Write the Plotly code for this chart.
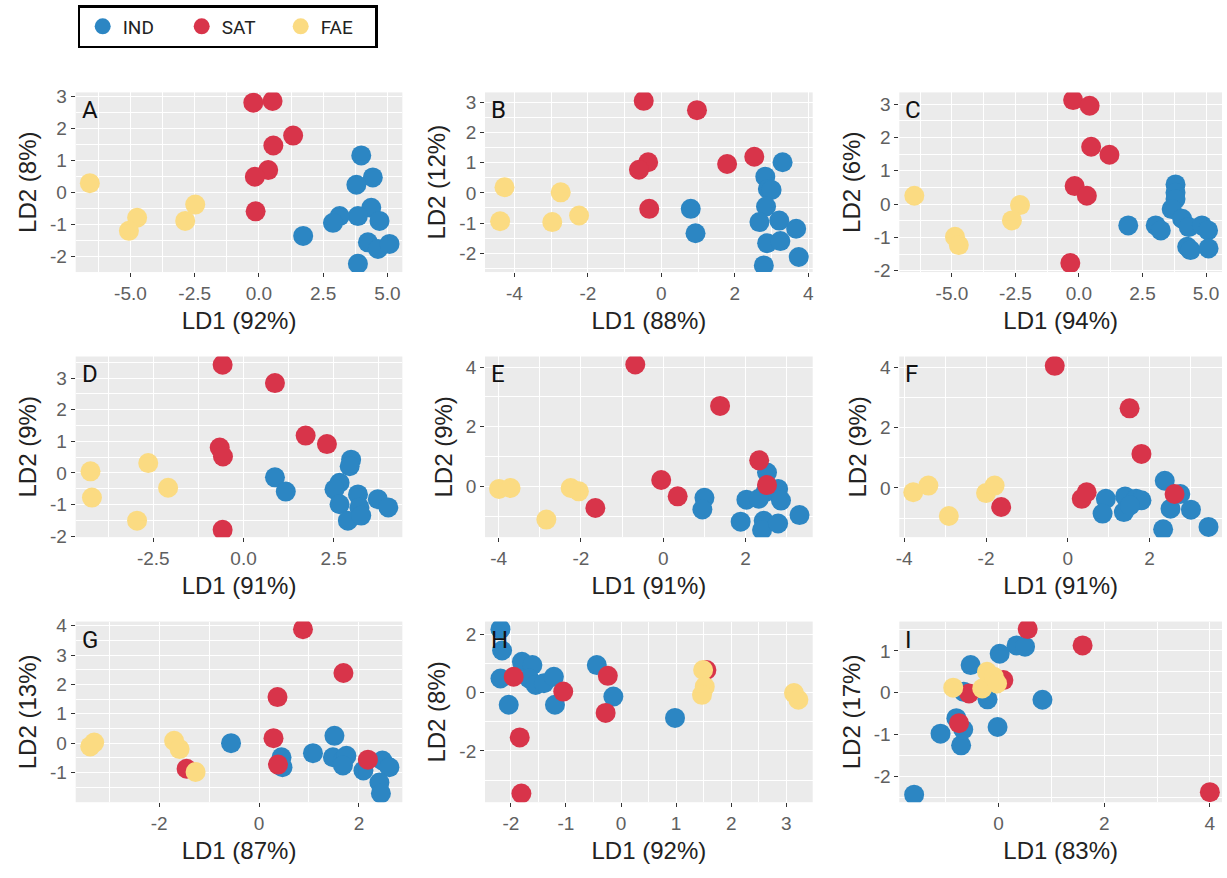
import plotly.graph_objects as go

W, H = 1227, 878

groups = ["IND", "SAT", "FAE"]
colors = {"IND": "#2C86C3", "SAT": "#D8344A", "FAE": "#FBDB82"}

# ---- data per panel (LD1, LD2) ----
A_IND_x = [3.98, 4.43, 3.79, 4.37, 3.85, 3.14, 2.88, 4.69, 4.24, 4.63, 5.08, 3.85, 1.72]
A_IND_y = [1.15, 0.46, 0.23, -0.49, -0.75, -0.75, -0.96, -0.90, -1.57, -1.78, -1.62, -2.24, -1.37]
A_SAT_x = [-0.22, 0.53, 1.33, 0.56, 0.36, -0.16, -0.13]
A_SAT_y = [2.80, 2.85, 1.77, 1.46, 0.69, 0.48, -0.60]
A_FAE_x = [-6.58, -4.74, -5.06, -2.48, -2.87]
A_FAE_y = [0.28, -0.80, -1.21, -0.39, -0.90]

B_IND_x = [3.30, 2.83, 2.90, 3.00, 2.85, 2.67, 3.21, 3.67, 2.88, 3.24, 3.74, 2.79, 0.80, 0.93]
B_IND_y = [1.02, 0.54, 0.13, 0.10, -0.45, -0.97, -0.92, -1.19, -1.67, -1.60, -2.13, -2.41, -0.53, -1.34]
B_SAT_x = [-0.48, 0.97, -0.36, -0.61, -0.33, 1.79, 2.53]
B_SAT_y = [3.06, 2.75, 1.02, 0.77, -0.53, 0.96, 1.20]
B_FAE_x = [-4.27, -4.39, -2.74, -2.97, -2.24]
B_FAE_y = [0.19, -0.94, 0.02, -0.97, -0.75]

C_IND_x = [3.80, 3.80, 3.80, 3.65, 4.06, 4.32, 4.84, 5.08, 4.26, 4.39, 5.10, 1.94, 3.02, 3.22]
C_IND_y = [0.59, 0.34, 0.15, -0.15, -0.44, -0.69, -0.64, -0.79, -1.28, -1.38, -1.33, -0.64, -0.64, -0.79]
C_SAT_x = [-0.23, 0.42, 0.48, 1.20, -0.17, 0.31, -0.34]
C_SAT_y = [3.12, 2.95, 1.72, 1.48, 0.54, 0.25, -1.77]
C_FAE_x = [-6.48, -4.88, -4.73, -2.32, -2.64]
C_FAE_y = [0.25, -0.98, -1.23, -0.03, -0.49]

D_IND_x = [0.87, 1.17, 2.98, 2.94, 2.66, 2.52, 2.66, 3.17, 3.21, 2.89, 3.26, 3.72, 4.01]
D_IND_y = [-0.14, -0.59, 0.42, 0.21, -0.31, -0.52, -0.99, -0.68, -1.09, -1.51, -1.35, -0.83, -1.09]
D_SAT_x = [-0.58, 0.87, -0.66, -0.57, -0.58, 1.72, 2.31]
D_SAT_y = [3.42, 2.84, 0.80, 0.52, -1.80, 1.18, 0.91]
D_FAE_x = [-4.24, -4.20, -2.64, -2.09, -2.95]
D_FAE_y = [0.05, -0.78, 0.31, -0.47, -1.51]

E_IND_x = [2.52, 2.48, 1.00, 0.95, 2.02, 2.32, 2.79, 2.86, 1.88, 2.44, 2.40, 2.79, 3.31]
E_IND_y = [0.46, -0.20, -0.39, -0.78, -0.45, -0.42, -0.09, -0.48, -1.19, -1.16, -1.47, -1.25, -0.97]
E_SAT_x = [-0.68, 1.38, -1.65, -0.05, 0.35, 2.33, 2.52]
E_SAT_y = [4.09, 2.70, -0.73, 0.21, -0.34, 0.87, 0.04]
E_FAE_x = [-3.99, -3.71, -2.25, -2.05, -2.84]
E_FAE_y = [-0.09, -0.06, -0.06, -0.17, -1.12]

F_IND_x = [0.93, 0.85, 1.40, 1.37, 1.67, 1.80, 1.52, 2.37, 2.75, 2.51, 3.01, 2.33, 3.44]
F_IND_y = [-0.36, -0.85, -0.28, -0.80, -0.36, -0.41, -0.58, 0.24, -0.20, -0.69, -0.72, -1.37, -1.29]
F_SAT_x = [-0.32, 1.51, 1.80, -1.63, 0.34, 0.46, 2.61]
F_SAT_y = [4.05, 2.64, 1.13, -0.63, -0.36, -0.14, -0.20]
F_FAE_x = [-3.78, -3.41, -2.91, -2.00, -1.79]
F_FAE_y = [-0.14, 0.08, -0.93, -0.17, 0.08]

G_IND_x = [-0.56, 0.45, 0.47, 1.08, 1.51, 1.48, 1.68, 1.75, 1.68, 2.09, 2.47, 2.61, 2.41, 2.44]
G_IND_y = [0.00, -0.48, -0.82, -0.34, 0.25, -0.48, -0.59, -0.43, -0.76, -0.93, -0.59, -0.82, -1.34, -1.71]
G_SAT_x = [0.88, 1.69, 0.37, 0.29, 0.38, -1.45, 2.18]
G_SAT_y = [3.88, 2.39, 1.57, 0.17, -0.73, -0.87, -0.56]
G_FAE_x = [-3.38, -3.30, -1.70, -1.59, -1.27]
G_FAE_y = [-0.11, 0.02, 0.08, -0.20, -0.98]

H_IND_x = [-2.19, -2.16, -2.19, -2.04, -1.80, -1.61, -1.67, -1.55, -1.40, -1.22, -1.20, -0.44, -0.14, 0.98]
H_IND_y = [2.17, 1.44, 0.48, -0.42, 1.05, 0.94, 0.48, 0.26, 0.32, 0.54, -0.42, 0.94, -0.14, -0.87]
H_SAT_x = [-1.95, -1.05, -0.24, -0.28, -1.84, -1.81, 1.55]
H_SAT_y = [0.54, 0.03, 0.57, -0.70, -1.54, -3.46, 0.77]
H_FAE_x = [1.49, 1.52, 1.47, 3.14, 3.22]
H_FAE_y = [0.77, 0.20, -0.08, -0.02, -0.25]

I_IND_x = [-1.60, -1.10, -0.71, -0.80, -0.67, -0.53, 0.02, 0.34, 0.50, -0.21, -0.02, 0.83, -0.66]
I_IND_y = [-2.44, -0.98, -1.26, -0.61, -0.88, 0.66, 0.93, 1.13, 1.10, -0.16, -0.82, -0.17, 0.02]
I_SAT_x = [0.55, 1.59, 4.00, -0.75, -0.56, 0.09]
I_SAT_y = [1.52, 1.13, -2.38, -0.73, -0.02, 0.30]
I_FAE_x = [-0.86, -0.31, -0.22, -0.09, -0.03]
I_FAE_y = [0.12, 0.10, 0.50, 0.38, 0.22]

panel_labels = ["A", "B", "C", "D", "E", "F", "G", "H", "I"]
ld1_titles = ["LD1 (92%)", "LD1 (88%)", "LD1 (94%)", "LD1 (91%)", "LD1 (91%)", "LD1 (91%)",
              "LD1 (87%)", "LD1 (92%)", "LD1 (83%)"]
ld2_titles = ["LD2 (8%)", "LD2 (12%)", "LD2 (6%)", "LD2 (9%)", "LD2 (9%)", "LD2 (9%)",
              "LD2 (13%)", "LD2 (8%)", "LD2 (17%)"]

data = {
    "A": {"IND": (A_IND_x, A_IND_y), "SAT": (A_SAT_x, A_SAT_y), "FAE": (A_FAE_x, A_FAE_y)},
    "B": {"IND": (B_IND_x, B_IND_y), "SAT": (B_SAT_x, B_SAT_y), "FAE": (B_FAE_x, B_FAE_y)},
    "C": {"IND": (C_IND_x, C_IND_y), "SAT": (C_SAT_x, C_SAT_y), "FAE": (C_FAE_x, C_FAE_y)},
    "D": {"IND": (D_IND_x, D_IND_y), "SAT": (D_SAT_x, D_SAT_y), "FAE": (D_FAE_x, D_FAE_y)},
    "E": {"IND": (E_IND_x, E_IND_y), "SAT": (E_SAT_x, E_SAT_y), "FAE": (E_FAE_x, E_FAE_y)},
    "F": {"IND": (F_IND_x, F_IND_y), "SAT": (F_SAT_x, F_SAT_y), "FAE": (F_FAE_x, F_FAE_y)},
    "G": {"IND": (G_IND_x, G_IND_y), "SAT": (G_SAT_x, G_SAT_y), "FAE": (G_FAE_x, G_FAE_y)},
    "H": {"IND": (H_IND_x, H_IND_y), "SAT": (H_SAT_x, H_SAT_y), "FAE": (H_FAE_x, H_FAE_y)},
    "I": {"IND": (I_IND_x, I_IND_y), "SAT": (I_SAT_x, I_SAT_y), "FAE": (I_FAE_x, I_FAE_y)},
}

# axis settings: (xrange, xticks, xfmt, yrange, yticks)
axes_cfg = {
    "A": ([-7.13, 5.58], [-5, -2.5, 0, 2.5, 5], ".1f", [-2.5, 3.12], [-2, -1, 0, 1, 2, 3]),
    "B": ([-4.8, 4.12], [-4, -2, 0, 2, 4], "", [-2.63, 3.34], [-2, -1, 0, 1, 2, 3]),
    "C": ([-7.07, 5.63], [-5, -2.5, 0, 2.5, 5], ".1f", [-2.04, 3.35], [-2, -1, 0, 1, 2, 3]),
    "D": ([-4.65, 4.4], [-2.5, 0, 2.5], ".1f", [-2.03, 3.68], [-2, -1, 0, 1, 2, 3]),
    "E": ([-4.33, 3.63], [-4, -2, 0, 2], "", [-1.71, 4.36], [0, 2, 4]),
    "F": ([-4.12, 3.77], [-4, -2, 0, 2], "", [-1.63, 4.36], [0, 2, 4]),
    "G": ([-3.67, 2.87], [-2, 0, 2], "", [-2.01, 4.14], [-1, 0, 1, 2, 3, 4]),
    "H": ([-2.47, 3.48], [-2, -1, 0, 1, 2, 3], "", [-3.76, 2.43], [-2, 0, 2]),
    "I": ([-1.88, 4.23], [0, 2, 4], "", [-2.62, 1.7], [-2, -1, 0, 1]),
}

# plot-area pixel boxes (x0, x1) per column and (y0, y1) per row
cols_px = [(72, 400), (483, 812), (899, 1223)]
rows_px = [(88, 271), (357, 541), (627, 811)]

fig = go.Figure()
layout = {}
annotations = []

for i, p in enumerate(panel_labels):
    r, c = divmod(i, 3)
    n = i + 1
    xa = "x" if n == 1 else f"x{n}"
    ya = "y" if n == 1 else f"y{n}"
    for g in groups:
        xs, ys = data[p][g]
        fig.add_trace(go.Scatter(
            x=xs, y=ys, mode="markers", xaxis=xa, yaxis=ya,
            name=g, legendgroup=g, showlegend=(i == 0),
            marker=dict(size=20, color=colors[g], line=dict(width=0)),
            hoverinfo="skip"))
    xr, xt, xf, yr, yt = axes_cfg[p]
    x0, x1 = cols_px[c]
    y0, y1 = rows_px[r]
    xstep = xt[1] - xt[0]
    ystep = yt[1] - yt[0]
    common = dict(showline=False, zeroline=False, gridcolor="white", gridwidth=1.4,
                  ticks="outside", ticklen=4, tickwidth=1.3, tickcolor="#333333",
                  tickfont=dict(family="Liberation Sans, Arial", size=19, color="#606060"),
                  title_font=dict(family="Liberation Sans, Arial", size=24, color="#222222"),
                  fixedrange=True)
    layout["xaxis" if n == 1 else f"xaxis{n}"] = dict(
        common, domain=[x0 / W, x1 / W], range=xr, tickmode="array", tickvals=xt,
        ticktext=[format(v, xf) if xf else f"{v:g}" for v in xt],
        anchor=ya, title=dict(text=ld1_titles[i], standoff=9),
        minor=dict(showgrid=True, gridcolor="white", gridwidth=0.6, dtick=xstep / 2,
                   tick0=xt[0] + xstep / 2, ticks=""))
    layout["yaxis" if n == 1 else f"yaxis{n}"] = dict(
        common, domain=[1 - y1 / H, 1 - y0 / H], range=yr, tickmode="array", tickvals=yt,
        ticktext=[f"{v:g}" for v in yt],
        anchor=xa, title=dict(text=ld2_titles[i], standoff=6),
        minor=dict(showgrid=True, gridcolor="white", gridwidth=0.6, dtick=ystep / 2,
                   tick0=yt[0] + ystep / 2, ticks=""))
    annotations.append(dict(
        text=p, xref="paper", yref="paper", x=(x0 + 4) / W, y=1 - (y0 + 2) / H,
        xanchor="left", yanchor="top", showarrow=False,
        font=dict(family="Roboto, Arial", size=24, color="#111111")))

fig.update_layout(
    **layout,
    width=W, height=H,
    margin=dict(l=0, r=0, t=0, b=0),
    paper_bgcolor="white",
    plot_bgcolor="#EBEBEB",
    annotations=annotations,
    legend=dict(orientation="h", x=74 / W, y=1 + 1 / H, xanchor="left", yanchor="top",
                bordercolor="black", borderwidth=2.5, bgcolor="white",
                font=dict(family="Roboto, Arial", size=19, color="#222222"),
                itemsizing="trace", entrywidth=49, entrywidthmode="pixels",
                indentation=5, tracegroupgap=0),
)

fig.write_html("out.html",
               config={"displayModeBar": False},
               post_script="document.body.style.margin='0';document.body.style.overflow='hidden';")
